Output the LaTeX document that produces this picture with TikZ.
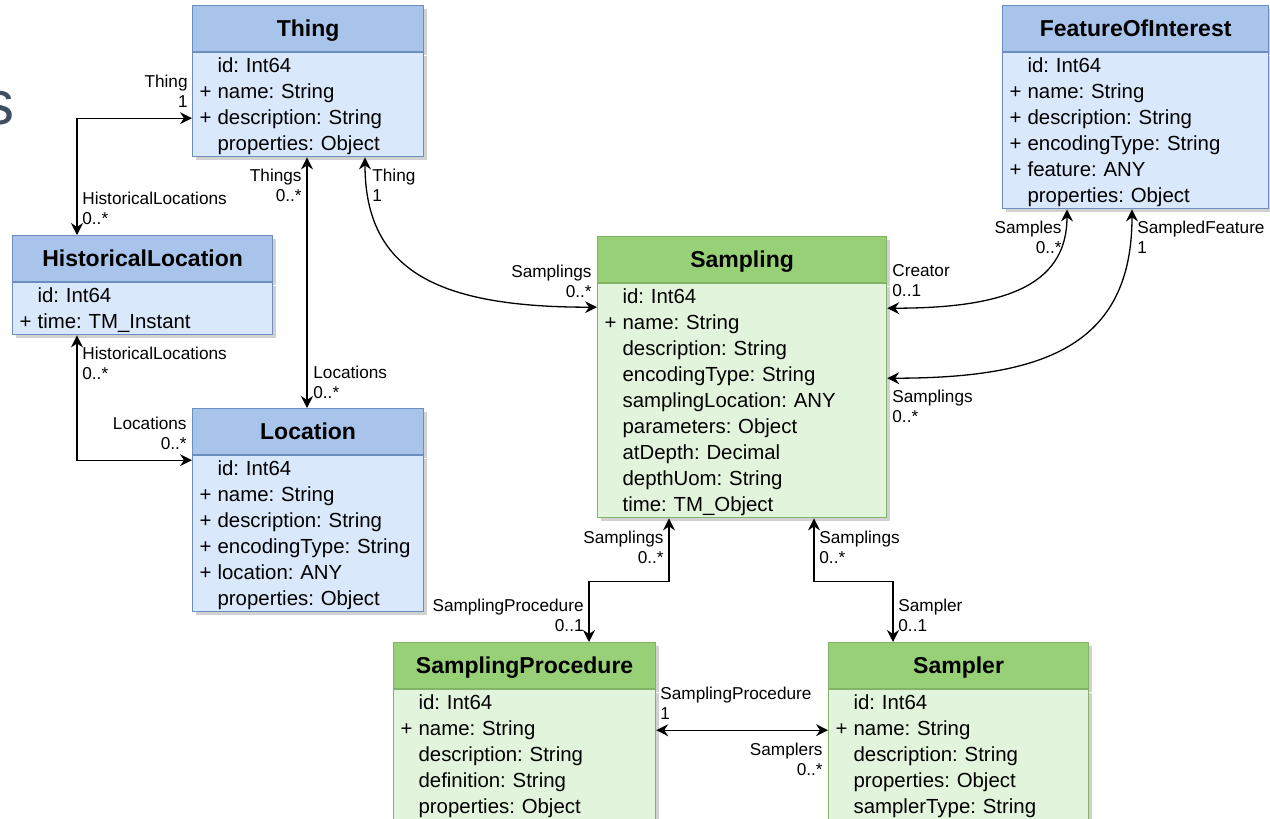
\documentclass[tikz,border=0pt]{standalone}
\usepackage{fontspec}
\setmainfont{Liberation Sans}
\usetikzlibrary{arrows.meta, calc, shadows}

\definecolor{bluehead}{HTML}{A9C4EB}
\definecolor{bluebody}{HTML}{DAE8FC}
\definecolor{blueline}{HTML}{6C8EBF}
\definecolor{greenhead}{HTML}{97D077}
\definecolor{greenbody}{HTML}{E3F4DC}
\definecolor{greenline}{HTML}{82B366}
\definecolor{titlegray}{HTML}{3F4F63}

% one attribute row, with or without the "+"
\newcommand\pp{\rule[-3pt]{0pt}{13pt}\makebox[9pt][l]{+}}
\newcommand\np{\rule[-3pt]{0pt}{13pt}\makebox[9pt]{}}

\begin{document}
\frenchspacing
\begin{tikzpicture}[x=0.5pt, y=-0.5pt,
  every node/.style={inner sep=0pt},
  shade/.style={drop shadow={shadow xshift=1.5pt, shadow yshift=-1.5pt, fill=black, opacity=0.18}},
  head/.style={draw, shade, anchor=north west, minimum height=23pt, line width=0.6pt,
    text height=10pt, text depth=1.8pt, font=\fontsize{11.5}{14}\selectfont\bfseries},
  attr/.style={draw, shade, anchor=north west, align=left, inner xsep=3.5pt, inner ysep=0pt,
    line width=0.6pt, font=\fontsize{10.2}{13}\selectfont},
  bluehd/.style={fill=bluehead, draw=blueline},
  bluebd/.style={fill=bluebody, draw=blueline},
  greenhd/.style={fill=greenhead, draw=greenline},
  greenbd/.style={fill=greenbody, draw=greenline},
  lbl/.style={font=\fontsize{8.6}{10}\selectfont},
  assoc/.style={{Stealth[length=6pt,width=6pt,inset=2pt]}-{Stealth[length=6pt,width=6pt,inset=2pt]}, line width=0.65pt}]

\path[use as bounding box, clip] (0,0) rectangle (1270,819);
\fill[white] (0,0) rectangle (1270,819);

\node[font=\fontsize{31}{31}\selectfont, text=titlegray, anchor=base east] (ttl) at (15,124) {s};

% classes
\node[head, bluehd, minimum width=115.5pt] (thing) at (192,5) {Thing};
\node[attr, bluebd, text width=108.5pt] (thingattr) at (thing.south west)
  {\np id: Int64\\\pp name: String\\\pp description: String\\\np properties: Object};

\node[head, bluehd, minimum width=130pt] (hloc) at (12,235) {HistoricalLocation};
\node[attr, bluebd, text width=123pt] (hlocattr) at (hloc.south west)
  {\np id: Int64\\\pp time: TM\_Instant};

\node[head, bluehd, minimum width=115.5pt] (loc) at (192,408) {Location};
\node[attr, bluebd, text width=108.5pt] (locattr) at (loc.south west)
  {\np id: Int64\\\pp name: String\\\pp description: String\\\pp encodingType: String\\\pp location: ANY\\\np properties: Object};

\node[head, bluehd, minimum width=133pt] (foi) at (1002,5) {FeatureOfInterest};
\node[attr, bluebd, text width=126pt] (foiattr) at (foi.south west)
  {\np id: Int64\\\pp name: String\\\pp description: String\\\pp encodingType: String\\\pp feature: ANY\\\np properties: Object};

\node[head, greenhd, minimum width=144.5pt] (sampl) at (597,236) {Sampling};
\node[attr, greenbd, text width=137.5pt] (samplattr) at (sampl.south west)
  {\np id: Int64\\\pp name: String\\\np description: String\\\np encodingType: String\\\np samplingLocation: ANY\\\np parameters: Object\\\np atDepth: Decimal\\\np depthUom: String\\\np time: TM\_Object};

\node[head, greenhd, minimum width=131pt] (sproc) at (393,642) {SamplingProcedure};
\node[attr, greenbd, text width=124pt] (sprocattr) at (sproc.south west)
  {\np id: Int64\\\pp name: String\\\np description: String\\\np definition: String\\\np properties: Object};

\node[head, greenhd, minimum width=130pt] (smplr) at (828,642) {Sampler};
\node[attr, greenbd, text width=123pt] (smplrattr) at (smplr.south west)
  {\np id: Int64\\\pp name: String\\\np description: String\\\np properties: Object\\\np samplerType: String};

% associations
\draw[assoc] ($(thingattr.north west)+(0,66)$) -| ($(hloc.north west)+(65,0)$);
\draw[assoc] ($(hlocattr.south west)+(65,0)$) |- ($(locattr.north west)+(0,5)$);
\draw[assoc] ($(thingattr.south west)+(115,0)$) -- ($(loc.north west)+(115,0)$);
\draw[assoc] ($(thingattr.south west)+(173,0)$) .. controls +(0,115) and +(-157,0) .. ($(samplattr.north west)+(0,24)$);
\draw[assoc] ($(foiattr.south west)+(65,0)$) .. controls +(0,78) and +(114,0) .. ($(samplattr.north east)+(0,25)$);
\draw[assoc] ($(foiattr.south west)+(130,0)$) .. controls +(0,138) and +(154,0) .. ($(samplattr.north east)+(0,95)$);
\draw[assoc] ($(samplattr.south west)+(72,0)$) -- ++(0,63) -| ($(sproc.north west)+(196,0)$);
\draw[assoc] ($(samplattr.south west)+(217,0)$) -- ++(0,63) -| ($(smplr.north west)+(65,0)$);
\draw[assoc] ($(sprocattr.north east)+(0,41)$) -- ($(smplrattr.north west)+(0,41)$);

% role names and multiplicities
\node[lbl, align=right, anchor=north east] (thingA) at (188,75) {Thing\\1};
\node[lbl, align=left, anchor=north west] (hlocA) at (82,192) {HistoricalLocations\\0..*};
\node[lbl, align=left, anchor=north west] (hlocB) at (82,347) {HistoricalLocations\\0..*};
\node[lbl, align=right, anchor=north east] (locA) at (187,417) {Locations\\0..*};
\node[lbl, align=right, anchor=north east] (thingsB) at (302,169) {Things\\0..*};
\node[lbl, align=left, anchor=north west] (locB) at (313,366) {Locations\\0..*};
\node[lbl, align=left, anchor=north west] (thingC) at (372,169) {Thing\\1};
\node[lbl, align=right, anchor=north east] (samplA) at (592,265) {Samplings\\0..*};
\node[lbl, align=right, anchor=north east] (samplesA) at (1062,221) {Samples\\0..*};
\node[lbl, align=left, anchor=north west] (creatorA) at (892,264) {Creator\\0..1};
\node[lbl, align=left, anchor=north west] (featA) at (1137,221) {SampledFeature\\1};
\node[lbl, align=left, anchor=north west] (samplB) at (892,390) {Samplings\\0..*};
\node[lbl, align=right, anchor=north east] (samplC) at (664,531) {Samplings\\0..*};
\node[lbl, align=right, anchor=north east] (sprocA) at (584,599) {SamplingProcedure\\0..1};
\node[lbl, align=left, anchor=north west] (samplD) at (819,531) {Samplings\\0..*};
\node[lbl, align=left, anchor=north west] (smplrA) at (898,599) {Sampler\\0..1};
\node[lbl, align=left, anchor=north west] (sprocB) at (660,687) {SamplingProcedure\\1};
\node[lbl, align=right, anchor=north east] (smplrB) at (823,743) {Samplers\\0..*};

\end{tikzpicture}
\end{document}
